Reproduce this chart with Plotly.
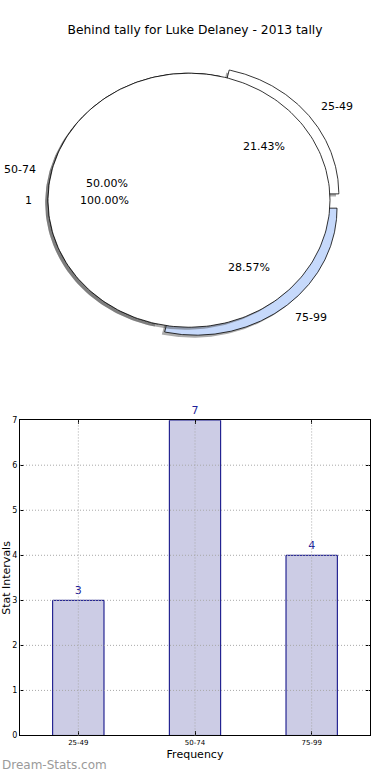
import numpy as np
import plotly.graph_objects as go

# ---------------- data ----------------
chart_title = "Behind tally for Luke Delaney - 2013 tally"
categories = ["25-49", "50-74", "75-99"]
counts = [3, 7, 4]
pie_colors = ["#ffffff", "#ffffff", "#c6d9fb"]
pie_explode = [0.08, 0.0, 0.08]
overlay_labels = ["1"]
overlay_values = [1]
overlay_colors = ["#ffffff"]
y_ticks = [0, 1, 2, 3, 4, 5, 6, 7]
x_title = "Frequency"
y_title = "Stat Intervals"
watermark = "Dream-Stats.com"

W, H = 390, 780
FONT = "DejaVu Sans"


def py(p):
    return 1 - p / H


def wedge(t1, t2, cx, cy, full=False, n=240):
    th = np.radians(np.linspace(t1, t2, n))
    xs = cx + np.cos(th)
    ys = cy + np.sin(th)
    if not full:
        xs = np.concatenate([[cx], xs, [cx]])
        ys = np.concatenate([[cy], ys, [cy]])
    return xs, ys


fig = go.Figure()
annotations = []


def draw_pie(values, labels, colors, explode):
    total = float(sum(values))
    theta = 0.0
    for v, lab, col, ex in zip(values, labels, colors, explode):
        t2 = theta + 360.0 * v / total
        mid = np.radians((theta + t2) / 2)
        cx, cy = ex * np.cos(mid), ex * np.sin(mid)
        full = (t2 - theta) >= 359.999
        # shadow
        sx, sy = wedge(theta, t2, cx - 0.02, cy - 0.02, full)
        fig.add_trace(go.Scatter(x=sx, y=sy, xaxis="x2", yaxis="y2", mode="lines",
                                 fill="toself", fillcolor="rgba(70,70,70,0.45)",
                                 line=dict(width=0), hoverinfo="skip"))
        wx, wy = wedge(theta, t2, cx, cy, full)
        fig.add_trace(go.Scatter(x=wx, y=wy, xaxis="x2", yaxis="y2", mode="lines",
                                 fill="toself", fillcolor=col,
                                 line=dict(color="#000000", width=0.8),
                                 hoverinfo="skip"))
        lx = cx + 1.1 * np.cos(mid)
        ly = cy + 1.1 * np.sin(mid)
        annotations.append(dict(x=lx, y=ly, xref="x2", yref="y2", text=lab,
                                showarrow=False, xanchor="left" if lx > 0 else "right",
                                yanchor="middle", font=dict(family=FONT, size=11, color="#000")))
        tx = cx + 0.6 * np.cos(mid)
        ty = cy + 0.6 * np.sin(mid)
        annotations.append(dict(x=tx, y=ty, xref="x2", yref="y2",
                                text=f"{100 * v / total:.2f}%", showarrow=False,
                                xanchor="center", yanchor="middle",
                                font=dict(family=FONT, size=11, color="#000")))
        theta = t2


draw_pie(counts, categories, pie_colors, pie_explode)
draw_pie(overlay_values, overlay_labels, overlay_colors, [0.0])

# ---------------- bar chart ----------------
fig.add_trace(go.Bar(x=categories, y=counts, width=0.44,
                     marker=dict(color="#ccccE5", line=dict(color="#000080", width=1)),
                     text=[str(c) for c in counts], textposition="outside",
                     textfont=dict(family=FONT, size=11, color="#1f1f9a"),
                     cliponaxis=False, hoverinfo="skip"))

shapes = []
for t in y_ticks[1:-1]:
    shapes.append(dict(type="line", xref="x domain", yref="y", x0=0, x1=1, y0=t, y1=t,
                       line=dict(color="#a8a8a8", width=1, dash="1px,2px"), layer="above"))
for c in categories:
    shapes.append(dict(type="line", xref="x", yref="y domain", x0=c, x1=c, y0=0, y1=1,
                       line=dict(color="#a8a8a8", width=1, dash="1px,2px"), layer="above"))

annotations.append(dict(x=6.5 / W, y=py(581), xref="paper", yref="paper", text=y_title,
                        textangle=-90, showarrow=False, xanchor="center", yanchor="middle",
                        font=dict(family=FONT, size=11, color="#000")))
annotations.append(dict(x=0, y=py(770), xref="paper", yref="paper", text=watermark,
                        showarrow=False, xanchor="left", yanchor="middle",
                        font=dict(family=FONT, size=12, color="#9a9a9a")))

fig.update_layout(
    width=W, height=H,
    margin=dict(l=0, r=0, t=0, b=0),
    paper_bgcolor="white", plot_bgcolor="white",
    showlegend=False,
    title=dict(text=chart_title, x=0.5, xanchor="center", y=py(30), yanchor="middle",
               font=dict(family=FONT, size=12.3, color="#000")),
    xaxis=dict(domain=[20 / W, 370 / W], type="category", range=[-0.5, 2.5],
               showgrid=False, ticks="inside", ticklen=4, tickcolor="#000",
               showline=True, linecolor="#000", linewidth=1, mirror="ticks",
               tickfont=dict(family=FONT, size=7, color="#000"),
               title=dict(text=x_title, standoff=4, font=dict(family=FONT, size=11, color="#000")),
               layer="above traces", fixedrange=True),
    yaxis=dict(domain=[py(740), py(421)], range=[0, 7], tickvals=y_ticks,
               showgrid=False, zeroline=False, ticks="inside", ticklen=4, tickcolor="#000",
               showline=True, linecolor="#000", linewidth=1, mirror="ticks",
               tickfont=dict(family=FONT, size=8, color="#000"),
               layer="above traces", fixedrange=True),
    xaxis2=dict(domain=[0, 1], range=[-189 / 141, 201 / 141], visible=False,
                anchor="y2", fixedrange=True),
    yaxis2=dict(domain=[py(380), py(40)], range=[-(380 - 198.5) / 128.5, (198.5 - 40) / 128.5],
                visible=False, anchor="x2", fixedrange=True),
    shapes=shapes,
    annotations=annotations,
)

fig.write_html(
    "out.html",
    config={"displayModeBar": False, "staticPlot": True},
    post_script=("document.documentElement.style.margin='0px';"
                 "document.body.style.margin='0px';"
                 "document.body.style.overflow='hidden';"),
)
